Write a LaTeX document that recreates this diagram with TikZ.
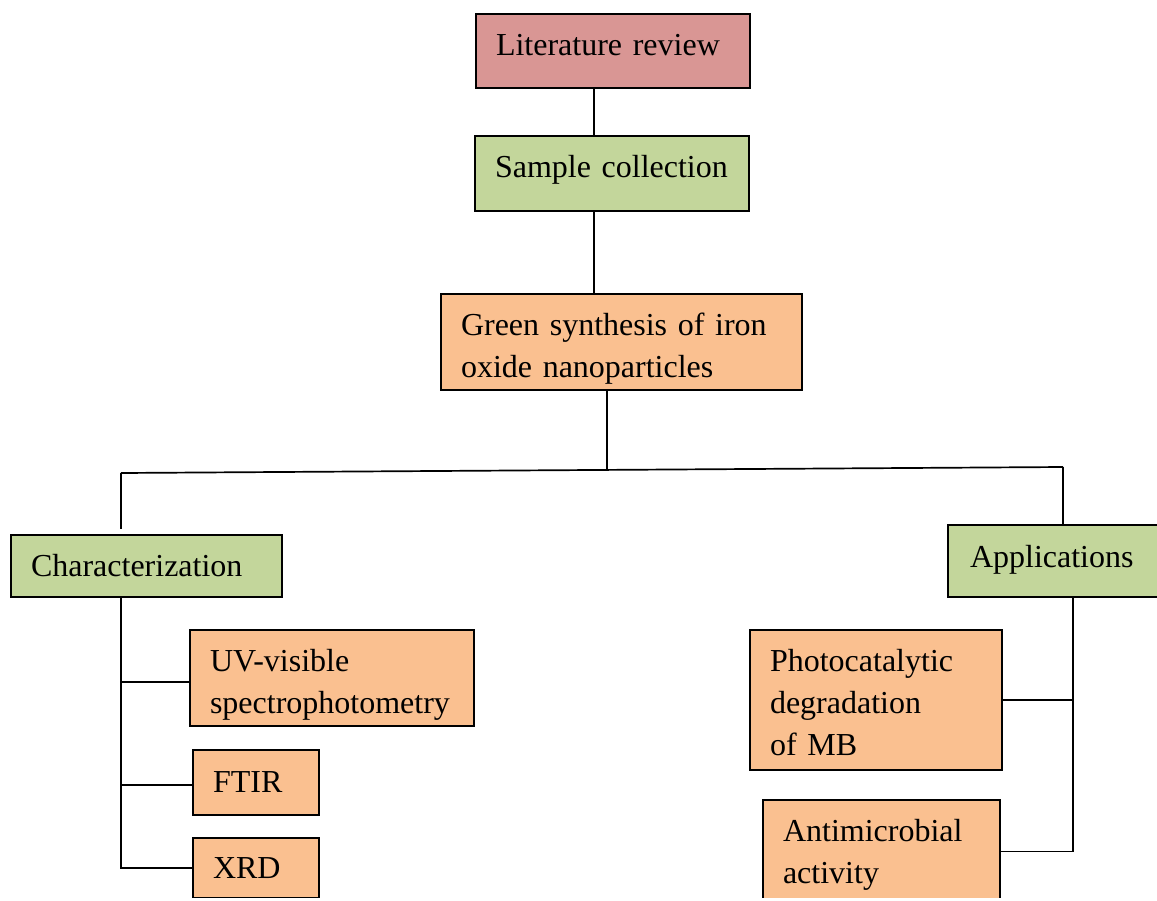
\documentclass[tikz,border=0pt]{standalone}
\usepackage{fontspec}
\setmainfont{Liberation Serif}
\definecolor{pinkbox}{HTML}{D99694}
\definecolor{greenbox}{HTML}{C3D69B}
\definecolor{orangebox}{HTML}{FAC090}
\newcommand{\topstrut}[1]{\rule{0pt}{#1}}
\tikzset{
  box/.style={draw, line width=1.6pt, rectangle, inner xsep=20pt, inner ysep=0pt,
    align=left, font=\fontsize{32}{42}\selectfont},
  conn/.style={line width=1.7pt}
}
\begin{document}
\begin{tikzpicture}[x=1pt,y=-1pt]
\useasboundingbox (0,0) rectangle (1157,900);
\clip (0,0) rectangle (1157,897);
\fill[white] (0,0) rectangle (1157,900);
% boxes
\node[box, fill=pinkbox, text width=234pt, minimum height=74pt, text depth=12pt] (lit) at (613,51) {Literature review};
\node[box, fill=greenbox, text width=234pt, minimum height=75pt, text depth=15pt] (sample) at (612,173.5) {Sample collection};
\node[box, fill=orangebox, text width=321pt, minimum height=96pt] (green) at (621.5,342) {\topstrut{36pt}Green synthesis of iron\\oxide nanoparticles};
\node[box, fill=greenbox, text width=231pt, minimum height=62pt] (char) at (146.5,566) {Characterization};
\node[box, fill=greenbox, inner xsep=22pt, text width=196pt, minimum height=72pt, text depth=10pt] (app) at (1068,561) {Applications};
\node[box, fill=orangebox, text width=244pt, minimum height=96pt] (uv) at (332,678) {\topstrut{36pt}UV-visible\\spectrophotometry};
\node[box, fill=orangebox, text width=86pt, minimum height=65pt] (ftir) at (256,782.5) {FTIR};
\node[box, fill=orangebox, text width=86pt, minimum height=60pt] (xrd) at (256,868) {XRD};
\node[box, fill=orangebox, text width=212pt, minimum height=140pt] (photo) at (876,700) {\topstrut{28pt}Photocatalytic\\degradation\\of MB};
\node[box, fill=orangebox, text width=197pt, minimum height=103pt] (anti) at (881.5,851.5) {\topstrut{29pt}Antimicrobial\\activity};
% helper coordinates
\coordinate (ctop) at (594,0);
\coordinate (hub) at (607,470);
\coordinate (hl) at (121,473);
\coordinate (hr) at (1063,467);
\coordinate (ar) at (1073,0);
% connectors
\draw[conn] (lit.south -| ctop) -- (sample.north -| ctop);
\draw[conn] (sample.south -| ctop) -- (green.north -| ctop);
\draw[conn] (green.south -| hub) -- (hub);
\draw[conn] (hl) -- (hr);
\draw[conn] (hl) -- ([yshift=5pt]char.north -| hl);
\draw[conn] (hr) -- (app.north -| hr);
\draw[conn] (char.south -| hl) |- ([yshift=0pt]xrd.west);
\draw[conn] ([yshift=-4pt]uv.west) -- ([yshift=-4pt]uv.west -| hl);
\draw[conn] ([yshift=-2.5pt]ftir.west) -- ([yshift=-2.5pt]ftir.west -| hl);
\draw[conn] (app.south -| ar) |- (anti.east);
\draw[conn] (photo.east) -- (photo.east -| ar);
\end{tikzpicture}
\end{document}
